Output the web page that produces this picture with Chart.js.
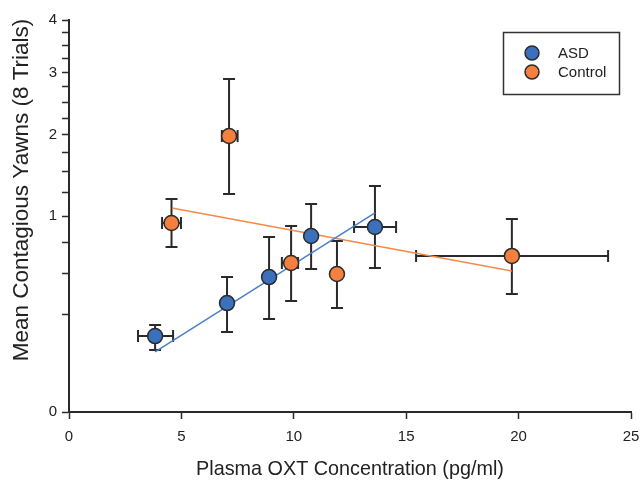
<!DOCTYPE html>
<html>
<head>
<meta charset="utf-8">
<script src="https://cdn.jsdelivr.net/npm/chart.js@4.4.1/dist/chart.umd.min.js"></script>
<style>
  body { margin: 0; background: #fff; }
  canvas { display: block; }
</style>
</head>
<body>
<canvas id="chart" width="643" height="483"></canvas>
<script>
// ASD group: means and error bar ends (y on a square-root axis)
const asdX = [3.83, 7.03, 8.9, 10.77, 13.61];
const asdY = [0.15, 0.309, 0.474, 0.806, 0.891];
const asdYLow = [0.1, 0.167, 0.225, 0.532, 0.54];
const asdYHigh = [0.197, 0.474, 0.797, 1.126, 1.33];
const asdXLow = [3.07, null, null, null, 12.68];
const asdXHigh = [4.63, null, null, null, 14.55];

// Control group
const ctrlX = [4.56, 7.12, 9.88, 11.92, 19.7];
const ctrlY = [0.93, 1.983, 0.578, 0.496, 0.634];
const ctrlYLow = [0.709, 1.237, 0.321, 0.282, 0.362];
const ctrlYHigh = [1.181, 2.887, 0.9, 0.761, 0.97];
const ctrlXLow = [4.14, 6.8, 9.47, null, 15.44];
const ctrlXHigh = [4.98, 7.5, 10.19, null, 23.98];

// fitted lines, end points
const asdFitX = [3.83, 13.61];
const asdFitY = [0.094, 1.031];
const ctrlFitX = [4.58, 19.7];
const ctrlFitY = [1.083, 0.518];

const xTicks = [0, 5, 10, 15, 20, 25];
const yTicks = [0, 0.25, 0.5, 0.75, 1, 1.25, 1.5, 1.75, 2, 2.25, 2.5, 2.75, 3, 3.25, 3.5, 3.75, 4];

const BLUE = "#3b70bd";
const ORANGE = "#f47f3f";
const INK = "#2a2a2a";
const FONT = "'Liberation Sans', Arial, sans-serif";

// square-root value axis
class SqrtScale extends Chart.LinearScale {
  getPixelForValue(value) {
    return this.getPixelForDecimal(Math.sqrt(Math.max(value, 0)) / Math.sqrt(this.max));
  }
  getValueForPixel(pixel) {
    const d = this.getDecimalForPixel(pixel) * Math.sqrt(this.max);
    return d * d;
  }
}
SqrtScale.id = "sqrt";
SqrtScale.defaults = Chart.LinearScale.defaults;
Chart.register(SqrtScale);

const toPoints = (xs, ys) => xs.map((x, i) => ({ x: x, y: ys[i] }));

const groups = [
  { x: asdX, y: asdY, yLo: asdYLow, yHi: asdYHigh, xLo: asdXLow, xHi: asdXHigh },
  { x: ctrlX, y: ctrlY, yLo: ctrlYLow, yHi: ctrlYHigh, xLo: ctrlXLow, xHi: ctrlXHigh },
];

const errorBars = {
  id: "errorBars",
  beforeDatasetsDraw(chart) {
    const { ctx } = chart;
    const xs = chart.scales.x, ys = chart.scales.y;
    const cap = 6;
    ctx.save();
    ctx.strokeStyle = INK;
    ctx.lineWidth = 2;
    groups.forEach(g => {
      g.x.forEach((xv, i) => {
        const px = xs.getPixelForValue(xv);
        const py = ys.getPixelForValue(g.y[i]);
        const top = ys.getPixelForValue(g.yHi[i]);
        const bot = ys.getPixelForValue(g.yLo[i]);
        ctx.beginPath();
        ctx.moveTo(px, top); ctx.lineTo(px, bot);
        ctx.moveTo(px - cap, top); ctx.lineTo(px + cap, top);
        ctx.moveTo(px - cap, bot); ctx.lineTo(px + cap, bot);
        if (g.xLo[i] !== null) {
          const l = xs.getPixelForValue(g.xLo[i]);
          const r = xs.getPixelForValue(g.xHi[i]);
          ctx.moveTo(l, py); ctx.lineTo(r, py);
          ctx.moveTo(l, py - cap); ctx.lineTo(l, py + cap);
          ctx.moveTo(r, py - cap); ctx.lineTo(r, py + cap);
        }
        ctx.stroke();
      });
    });
    ctx.restore();
  }
};

const titlesAndLegend = {
  id: "titlesAndLegend",
  afterDraw(chart) {
    const { ctx, chartArea } = chart;
    ctx.save();
    ctx.fillStyle = "#222";
    ctx.textAlign = "center";
    ctx.textBaseline = "middle";
    ctx.font = "19.8px " + FONT;
    ctx.fillText("Plasma OXT Concentration (pg/ml)", (chartArea.left + chartArea.right) / 2, 470);
    ctx.translate(22, 190);
    ctx.rotate(-Math.PI / 2);
    ctx.font = "22.5px " + FONT;
    ctx.fillText("Mean Contagious Yawns (8 Trials)", 0, 0);
    ctx.restore();

    // legend box
    ctx.save();
    ctx.strokeStyle = "#333";
    ctx.lineWidth = 1.5;
    ctx.strokeRect(503.5, 32.5, 116, 62);
    const items = [["ASD", BLUE, 53], ["Control", ORANGE, 72]];
    items.forEach(([label, color, y]) => {
      ctx.beginPath();
      ctx.arc(532, y, 7, 0, Math.PI * 2);
      ctx.fillStyle = color;
      ctx.fill();
      ctx.lineWidth = 1.5;
      ctx.strokeStyle = INK;
      ctx.stroke();
      ctx.fillStyle = "#222";
      ctx.font = "15px " + FONT;
      ctx.textAlign = "left";
      ctx.textBaseline = "middle";
      ctx.fillText(label, 558, y + 1);
    });
    ctx.restore();
  }
};

new Chart(document.getElementById("chart"), {
  type: "scatter",
  data: {
    datasets: [
      {
        label: "ASD",
        data: toPoints(asdX, asdY),
        backgroundColor: BLUE,
        borderColor: INK,
        borderWidth: 1.5,
        pointRadius: 7.5,
        order: 0,
      },
      {
        label: "Control",
        data: toPoints(ctrlX, ctrlY),
        backgroundColor: ORANGE,
        borderColor: INK,
        borderWidth: 1.5,
        pointRadius: 7.5,
        order: 0,
      },
      {
        label: "ASD fit",
        data: toPoints(asdFitX, asdFitY),
        showLine: true,
        borderColor: "#4a7fca",
        borderWidth: 1.5,
        pointRadius: 0,
        order: 1,
      },
      {
        label: "Control fit",
        data: toPoints(ctrlFitX, ctrlFitY),
        showLine: true,
        borderColor: "#f5894b",
        borderWidth: 1.5,
        pointRadius: 0,
        order: 1,
      },
    ],
  },
  options: {
    responsive: false,
    animation: false,
    events: [],
    layout: { padding: { top: 20, right: 12, left: 0, bottom: 0 } },
    plugins: { legend: { display: false }, tooltip: { enabled: false } },
    scales: {
      x: {
        type: "linear",
        min: 0,
        max: 25,
        afterBuildTicks: s => { s.ticks = xTicks.map(v => ({ value: v })); },
        afterFit: s => { s.height = 71; s.paddingLeft = 0; s.paddingRight = 0; },
        grid: { drawOnChartArea: false, tickLength: 7, tickColor: INK, tickWidth: 1.5 },
        border: { color: INK, width: 2 },
        ticks: { color: "#222", font: { family: FONT, size: 15 }, padding: 9, maxRotation: 0 },
      },
      y: {
        type: "sqrt",
        min: 0,
        max: 4,
        afterBuildTicks: s => { s.ticks = yTicks.map(v => ({ value: v })); },
        afterFit: s => { s.width = 69; },
        grid: { drawOnChartArea: false, tickLength: 7, tickColor: INK, tickWidth: 1.5 },
        border: { color: INK, width: 2 },
        ticks: {
          color: "#222",
          font: { family: FONT, size: 15 },
          padding: 5,
          autoSkip: false,
          callback: v => (Number.isInteger(v) ? String(v) : ""),
        },
      },
    },
  },
  plugins: [errorBars, titlesAndLegend],
});
</script>
</body>
</html>
